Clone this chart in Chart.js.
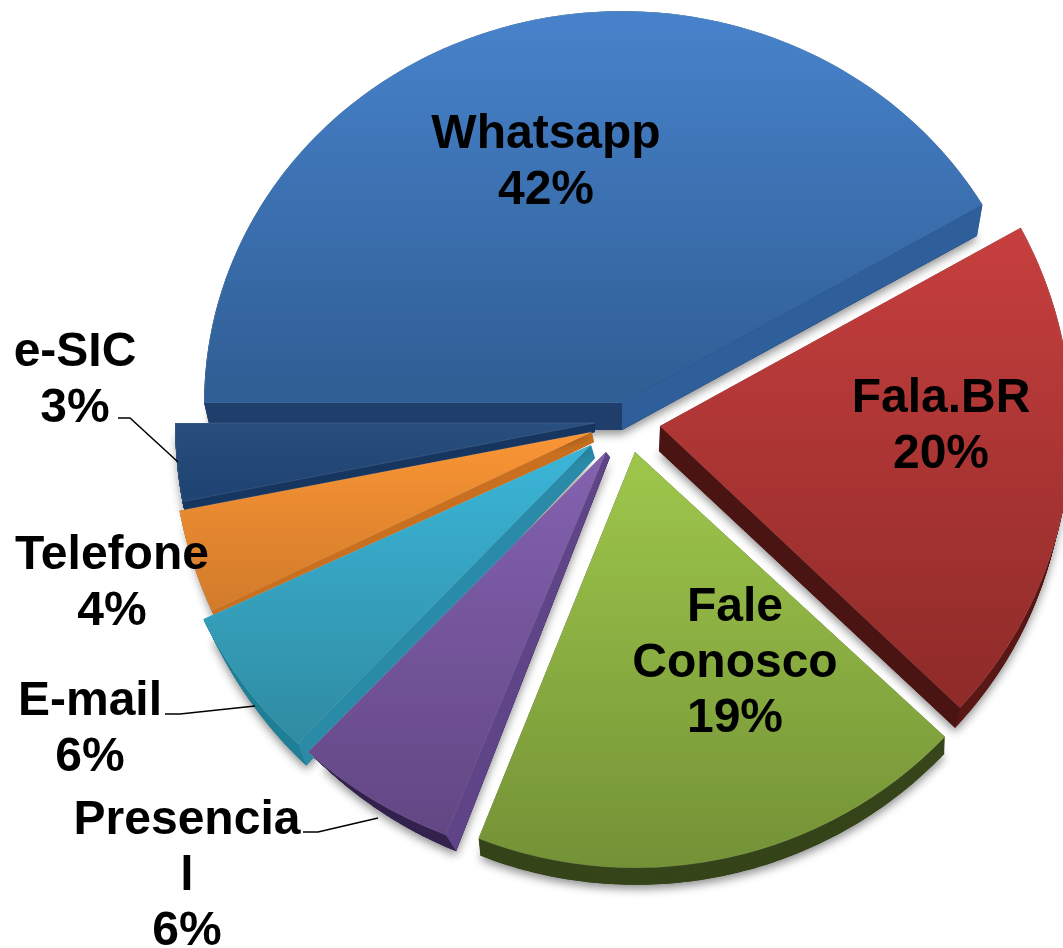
<!DOCTYPE html>
<html><head><meta charset="utf-8">
<style>html,body{margin:0;padding:0;background:#fff}canvas{display:block}</style>
<script src="https://cdn.jsdelivr.net/npm/chart.js@4"></script>
</head><body><canvas id="c" width="1063" height="948"></canvas>
<script>
// --- data ---
const categories = ['Whatsapp','Fala.BR','Fale Conosco','Presencial','E-mail','Telefone','e-SIC'];
const values = [42,20,19,6,6,4,3];
const labelLines = [['Whatsapp'],['Fala.BR'],['Fale','Conosco'],['Presencia','l'],['E-mail'],['Telefone'],['e-SIC']];

// --- styles ---
const faceTop    = ['#4681c9','#c63f3e','#9cc44a','#8160ad','#3ab3d5','#fa9535','#29507f'];
const faceBottom = ['#305f96','#8f2b29','#718f35','#604480','#2f8aa0','#d07a2a','#1f4372'];
const gradSpan   = [[30,405],[230,700],[455,870],[460,850],[450,740],[430,610],[423,500]];
const arcSide    = ['#203e6b','#5a1a18','#36451a','#35234f','#1f7f96','#c06a1c','#16355f'];
const startSide  = ['#203e6b',null,null,'#5f4488','#2a8ba8','#c87020','#16355f'];
const endSide    = ['#2e5f9a','#4a1412',null,null,null,null,null];
const sliceShift = [[-7,-26],[31,-3],[6,23],[-23,23],[-38,16],[-37,3],[-34,-6]];
const faceScale  = [[.995,.933],[.98,.98],[1.012,.99],[1.037,.98],[1.02,.975],[1,1],[1,1]];
const clipEdge   = [true,false,false,false,false,false,false];
const depthBase  = [[0,27],[-1,25],[1,17],[4,5],[4,13],[2,10],[0,9]];
const depthScale = [[.985,.98],[.987,.982],[.995,1],[.96,1.03],[.985,1.03],[.99,1.01],[.995,1]];
const labelPos   = [[546,135],[941,399],[735,608],[187,821],[90,702],[112,556],[75,353]];
const lineH = 55.5;
const leaders = [
  [[303,832],[318,832],[378,818]],
  [[165,714],[180,714],[255,706]],
  [[118,418],[130,418],[178,462]]
];

const R = 420;

function wedge(el, i){
  let a0 = el.startAngle, a1 = el.endAngle;
  const [fx,fy] = faceScale[i];
  const pts = [];
  if (clipEdge[i]) { a1 = Math.atan2(Math.sin(a1)/fy*fx, Math.cos(a1)); while(a1<a0) a1+=Math.PI*2; }
  const n = 90;
  for (let k=0;k<=n;k++){ const a=a0+(a1-a0)*k/n; pts.push([el.outerRadius*fx*Math.cos(a), el.outerRadius*fy*Math.sin(a)]); }
  return pts;
}

const sides = {
  id:'sides',
  beforeDatasetsDraw(chart){
    const ctx = chart.ctx, arcs = chart.getDatasetMeta(0).data;
    arcs.forEach((el,i)=>{
      const pts = wedge(el,i);
      const ax = el.x+sliceShift[i][0], ay = el.y+sliceShift[i][1];
      const map = (p,t)=>[
        ax+t*depthBase[i][0]+(1+t*(depthScale[i][0]-1))*p[0],
        ay+t*depthBase[i][1]+(1+t*(depthScale[i][1]-1))*p[1]];
      const fill = (t,c)=>{
        ctx.beginPath();
        const o = map([0,0],t); ctx.moveTo(o[0],o[1]);
        pts.forEach(p=>{const q=map(p,t);ctx.lineTo(q[0],q[1]);});
        ctx.closePath(); ctx.fillStyle=c; ctx.fill();
      };
      ctx.save();
      ctx.shadowColor='rgba(0,0,0,.45)'; ctx.shadowBlur=10; ctx.shadowOffsetY=4;
      fill(1,arcSide[i]);
      ctx.restore();
      const steps=30;
      for(let k=steps;k>=0;k--) fill(k/steps,arcSide[i]);
      const quad=(p,c)=>{
        if(!c) return;
        const a=map([0,0],0),b=map(p,0),d=map(p,1),e=map([0,0],1);
        ctx.beginPath();ctx.moveTo(a[0],a[1]);ctx.lineTo(b[0],b[1]);ctx.lineTo(d[0],d[1]);ctx.lineTo(e[0],e[1]);ctx.closePath();
        ctx.fillStyle=c;ctx.fill();
      };
      quad(pts[0],startSide[i]);
      quad(pts[pts.length-1],endSide[i]);
    });
  }
};

const placeFaces = {
  id:'placeFaces',
  afterDatasetsUpdate(chart){
    chart.getDatasetMeta(0).data.forEach((el,i)=>{
      const proto = Object.getPrototypeOf(el);
      el.draw = function(ctx){
        const ax=el.x+sliceShift[i][0], ay=el.y+sliceShift[i][1];
        const [fx,fy]=faceScale[i];
        ctx.save();
        if(clipEdge[i]){
          const far=3000, a0=el.startAngle, a1=el.endAngle;
          ctx.beginPath();ctx.moveTo(ax,ay);
          ctx.lineTo(ax+far*Math.cos(a0),ay+far*Math.sin(a0));
          ctx.lineTo(ax-far,ay-far);ctx.lineTo(ax+far,ay-far);
          ctx.lineTo(ax+far*Math.cos(a1),ay+far*Math.sin(a1));
          ctx.closePath();ctx.clip();
        }
        ctx.translate(ax,ay);ctx.scale(fx,fy);ctx.translate(-el.x,-el.y);
        proto.draw.call(this,ctx);
        ctx.restore();
      };
    });
  }
};

const texts = {
  id:'texts',
  afterDatasetsDraw(chart){
    const ctx=chart.ctx;
    ctx.save();
    ctx.strokeStyle='#000';ctx.lineWidth=1.5;
    leaders.forEach(l=>{ctx.beginPath();l.forEach((p,k)=>k?ctx.lineTo(p[0],p[1]):ctx.moveTo(p[0],p[1]));ctx.stroke();});
    ctx.fillStyle='#000';ctx.font='bold 48px "Liberation Sans", Arial, sans-serif';
    ctx.textAlign='center';ctx.textBaseline='middle';
    categories.forEach((c,i)=>{
      const lines=[...labelLines[i], values[i]+'%'];
      lines.forEach((t,k)=>ctx.fillText(t,labelPos[i][0],labelPos[i][1]+k*lineH));
    });
    ctx.restore();
  }
};

function fillFor(i){
  return c=>{
    const g=c.chart.ctx.createLinearGradient(0,gradSpan[i][0],0,gradSpan[i][1]);
    g.addColorStop(0,faceTop[i]);g.addColorStop(1,faceBottom[i]);
    return g;
  };
}

new Chart(document.getElementById('c'),{
  type:'pie',
  data:{labels:categories,datasets:[{
    data:values,
    clip:false,
    backgroundColor:c=>fillFor(c.dataIndex)(c),
    borderColor:'rgba(255,255,255,.10)',
    borderWidth:1
  }]},
  options:{
    responsive:false,animation:false,rotation:-90,radius:R,
    layout:{padding:{left:195,right:0,top:0,bottom:90}},
    plugins:{legend:{display:false},title:{display:false},tooltip:{enabled:false}}
  },
  plugins:[placeFaces,sides,texts]
});
</script></body></html>
